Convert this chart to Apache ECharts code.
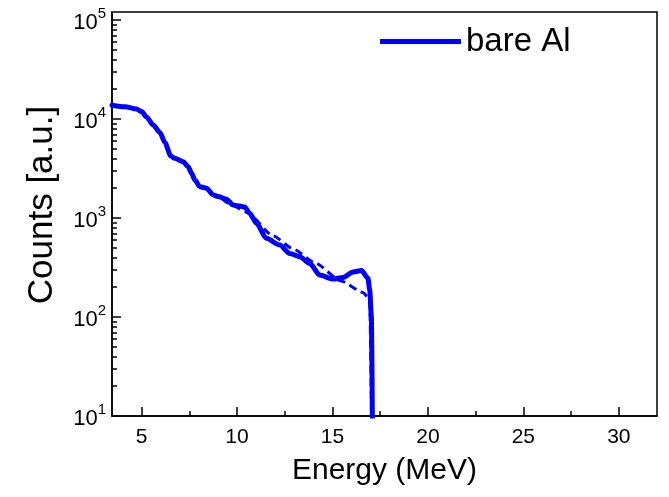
<!DOCTYPE html>
<html>
<head>
<meta charset="utf-8">
<script src="https://cdn.jsdelivr.net/npm/echarts@6/dist/echarts.min.js"></script>
<style>
html,body{margin:0;padding:0;background:#fff;}
#chart{width:669px;height:497px;}
</style>
</head>
<body>
<div id="chart"></div>
<script>
// Energy (MeV) and counts
var solidEnergy = [3.45, 4.13, 4.74, 5.0, 5.26, 5.61, 5.96, 6.22, 6.53, 6.74, 7.18, 7.44, 7.62, 7.79, 8.05, 8.40, 8.75, 9.05, 9.45, 9.80, 10.15, 10.4, 10.67, 11.02, 11.54, 12.24, 12.76, 13.29, 13.81, 14.33, 15.03, 15.55, 16.08, 16.52, 16.86, 16.95, 17.04, 17.09];
var solidCounts = [13800, 13300, 12600, 11900, 10500, 8690, 7310, 5800, 4230, 4010, 3700, 3300, 2830, 2420, 2070, 2000, 1710, 1640, 1550, 1350, 1320, 1290, 1110, 883, 623, 533, 439, 406, 349, 265, 242, 251, 285, 295, 246, 187, 101, 9];
var dashedEnergy = [8.05, 8.40, 8.75, 9.05, 9.52, 10.5, 11.9, 12.95, 14.1, 15.45, 16.6, 16.95, 17.05];
var dashedCounts = [2070, 2000, 1710, 1640, 1420, 1146, 658, 486, 351, 231, 177, 150, 9];
var xMajorTicks = [5, 10, 15, 20, 25, 30];
var xMinorTicks = [7.5, 12.5, 17.5, 22.5, 27.5];
var yMajorTicks = [10, 100, 1000, 10000, 100000];
var yMinorTicks = [20,30,40,50,60,70,80,90,200,300,400,500,600,700,800,900,2000,3000,4000,5000,6000,7000,8000,9000,20000,30000,40000,50000,60000,70000,80000,90000];
var seriesName = 'bare Al';

function zip(a, b) { return a.map(function (v, i) { return [v, b[i]]; }); }

var chart = echarts.init(document.getElementById('chart'), null, {renderer: 'canvas'});
var font = 'Liberation Sans, Arial, sans-serif';
var xMin = 3.45, xMax = 32, yMin = 10, yMax = 120500;

chart.setOption({
  animation: false,
  backgroundColor: '#fff',
  textStyle: {fontFamily: font},
  grid: {left: 112, right: 12, top: 12, bottom: 81, show: true, borderColor: '#000', borderWidth: 1.5, backgroundColor: 'transparent'},
  legend: {
    data: [seriesName], left: 380, top: 25, padding: 0, icon: 'rect', itemWidth: 81, itemHeight: 5,
    textStyle: {fontSize: 33, color: '#000', fontFamily: font}, itemGap: 0
  },
  xAxis: [{
    type: 'value', min: xMin, max: xMax, position: 'bottom',
    axisLine: {show: true, lineStyle: {color: '#000', width: 1.5}},
    axisTick: {show: true, inside: true, length: 9, customValues: xMajorTicks, lineStyle: {color: '#000', width: 1.5}},
    axisLabel: {customValues: xMajorTicks, fontSize: 21, color: '#000', margin: 11, fontFamily: font},
    splitLine: {show: false},
    name: 'Energy (MeV)', nameLocation: 'middle', nameGap: 40,
    nameTextStyle: {fontSize: 30, color: '#000', fontFamily: font}
  }, {
    type: 'value', min: xMin, max: xMax, position: 'bottom',
    axisLine: {show: false},
    axisTick: {show: true, inside: true, length: 5, customValues: xMinorTicks, lineStyle: {color: '#000', width: 1.5}},
    axisLabel: {show: false}, splitLine: {show: false}
  }],
  yAxis: [{
    type: 'log', logBase: 10, min: yMin, max: yMax, position: 'left',
    axisLine: {show: true, lineStyle: {color: '#000', width: 1.5}},
    axisTick: {show: true, inside: true, length: 9, customValues: yMajorTicks, lineStyle: {color: '#000', width: 1.5}},
    axisLabel: {
      customValues: yMajorTicks, margin: 6, color: '#000', fontFamily: font,
      formatter: function (v) { return '{b|10}{s|' + Math.round(Math.log10(v)) + '}'; },
      rich: {
        b: {fontSize: 22, color: '#000', fontFamily: font, verticalAlign: 'bottom'},
        s: {fontSize: 15, color: '#000', fontFamily: font, verticalAlign: 'top', padding: [0, 0, 12, 0]}
      }
    },
    splitLine: {show: false},
    name: 'Counts [a.u.]', nameLocation: 'middle', nameGap: 52, nameRotate: 90,
    nameTextStyle: {fontSize: 35, color: '#000', fontFamily: font, padding: [0, 0, 0, 18]}
  }, {
    type: 'log', logBase: 10, min: yMin, max: yMax, position: 'left',
    axisLine: {show: false},
    axisTick: {show: true, inside: true, length: 5, customValues: yMinorTicks, lineStyle: {color: '#000', width: 1.5}},
    axisLabel: {show: false}, splitLine: {show: false}
  }],
  series: [{
    name: 'dashed', type: 'line', xAxisIndex: 0, yAxisIndex: 0, showSymbol: false, symbol: 'none',
    data: zip(dashedEnergy, dashedCounts), smooth: 0.2, smoothMonotone: 'x',
    lineStyle: {color: '#0000ff', width: 3, type: [8, 5]}, z: 2
  }, {
    name: seriesName, type: 'line', xAxisIndex: 0, yAxisIndex: 0, showSymbol: false, symbol: 'none',
    data: zip(solidEnergy, solidCounts), smooth: 0.25, smoothMonotone: 'x',
    lineStyle: {color: '#0000ff', width: 5, cap: 'round', join: 'round'}, itemStyle: {color: '#0000ff'}, z: 3
  }]
});
</script>
</body>
</html>
